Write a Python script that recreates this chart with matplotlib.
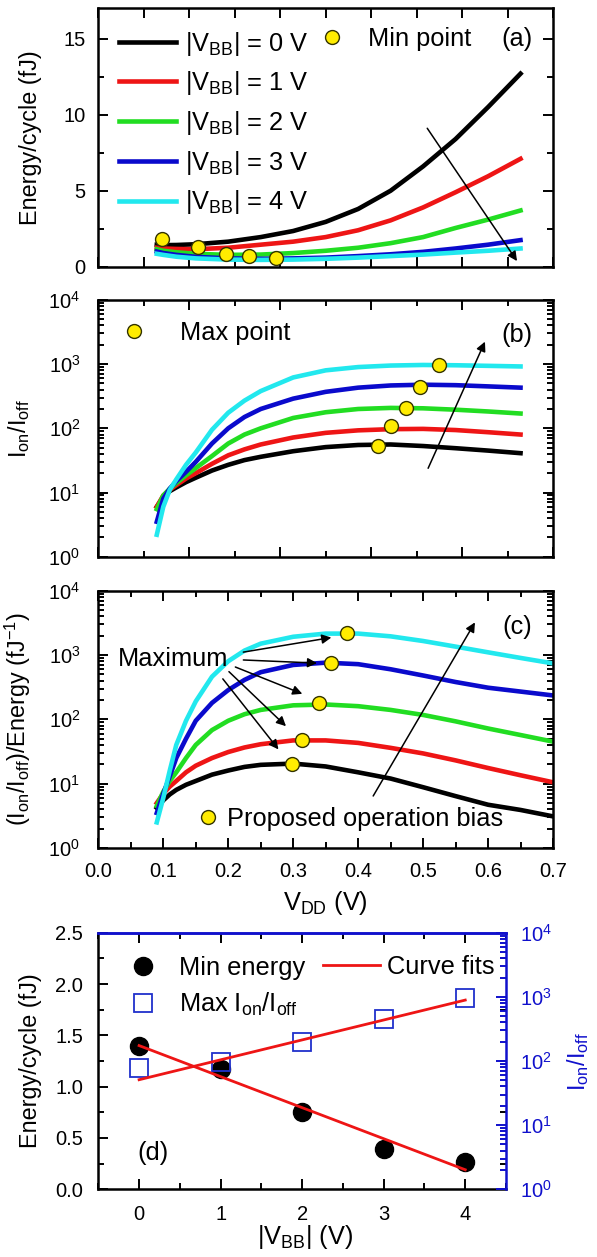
import numpy as np
import matplotlib
matplotlib.use("Agg")
import matplotlib.pyplot as plt
from matplotlib.ticker import MultipleLocator, LogLocator, NullFormatter, FormatStrFormatter
from matplotlib.lines import Line2D

plt.rcParams['font.family'] = ['Liberation Sans', 'DejaVu Sans']
plt.rcParams['mathtext.fontset'] = 'custom'
plt.rcParams['mathtext.rm'] = 'Liberation Sans'
plt.rcParams['mathtext.it'] = 'Liberation Sans:italic'
plt.rcParams['mathtext.default'] = 'regular'

# ---- data ----
vbb_labels = ['0', '1', '2', '3', '4']
colors = ['#000000', '#ee1515', '#22dd22', '#0a0acc', '#22e8ee']

# (a) energy/cycle vs VDD
vdd = [0.09, 0.10, 0.12, 0.15, 0.20, 0.25, 0.30, 0.35, 0.40, 0.45, 0.50, 0.55, 0.60, 0.65]
e_vbb0 = [1.45, 1.42, 1.43, 1.48, 1.65, 1.95, 2.35, 2.95, 3.8, 5.0, 6.6, 8.4, 10.5, 12.7]
e_vbb1 = [1.25, 1.20, 1.17, 1.15, 1.25, 1.45, 1.65, 1.95, 2.4, 3.05, 3.9, 4.9, 5.95, 7.1]
e_vbb2 = [1.15, 1.05, 0.95, 0.85, 0.78, 0.80, 0.90, 1.05, 1.25, 1.55, 1.95, 2.55, 3.1, 3.7]
e_vbb3 = [1.00, 0.90, 0.78, 0.65, 0.55, 0.52, 0.55, 0.60, 0.70, 0.82, 0.98, 1.2, 1.45, 1.75]
e_vbb4 = [0.85, 0.78, 0.66, 0.55, 0.47, 0.45, 0.47, 0.52, 0.60, 0.70, 0.80, 0.93, 1.05, 1.2]
min_vdd = [0.098, 0.154, 0.197, 0.232, 0.273]
min_e = [1.8, 1.27, 0.83, 0.70, 0.55]

# (b) Ion/Ioff vs VDD
vdd_b = [0.09, 0.10, 0.11, 0.12, 0.135, 0.15, 0.175, 0.20, 0.225, 0.25,
         0.30, 0.35, 0.40, 0.45, 0.50, 0.55, 0.60, 0.65]
r_vbb0 = [6, 8.5, 10.5, 12, 14.5, 17, 22, 27, 32, 36, 44, 51, 55, 56, 53, 49, 45, 41]
r_vbb1 = [6, 9, 11, 13, 16.5, 20, 28, 38, 47, 56, 72, 85, 93, 97, 98, 94, 87, 80]
r_vbb2 = [5.5, 9, 11.5, 14, 18.5, 24, 37, 58, 80, 100, 145, 178, 200, 208, 205, 195, 183, 170]
r_vbb3 = [3.5, 8, 11.5, 15, 21, 30, 58, 100, 150, 200, 290, 370, 430, 465, 478, 470, 450, 430]
r_vbb4 = [2.2, 6, 11, 16, 27, 42, 95, 175, 270, 380, 620, 800, 900, 950, 970, 960, 940, 920]
max_vdd = [0.430, 0.451, 0.474, 0.496, 0.524]
max_r = [53, 108, 205, 445, 970]

# (c) (Ion/Ioff)/Energy vs VDD
vdd_c = [0.09, 0.10, 0.11, 0.12, 0.135, 0.15, 0.175, 0.20, 0.225, 0.25,
         0.30, 0.35, 0.40, 0.45, 0.50, 0.55, 0.60, 0.65, 0.70]
q_vbb0 = [4.2, 5.5, 6.8, 8, 9.6, 11, 13.8, 16, 18.2, 19.6, 20.5, 18.5, 15, 12, 8.8, 6.4, 4.7, 3.9, 3.1]
q_vbb1 = [5, 7, 9, 11, 15, 19, 25, 31, 36.5, 41, 47, 47, 43, 36, 29.5, 23, 17.5, 13.5, 10.5]
q_vbb2 = [4.5, 7.5, 11, 15, 25, 40, 68, 95, 120, 140, 165, 170, 160, 140, 117, 93, 72, 57, 45]
q_vbb3 = [3.5, 7, 13, 25, 50, 95, 180, 285, 410, 540, 700, 760, 720, 600, 480, 380, 310, 270, 235]
q_vbb4 = [2.5, 6, 16, 40, 95, 190, 460, 800, 1170, 1500, 1920, 2150, 2150, 1950, 1650, 1350, 1100, 900, 740]
opt_vdd = [0.298, 0.313, 0.339, 0.358, 0.383]
opt_q = [20.2, 48, 178, 745, 2180]

# (d) summary vs |VBB|
vbb = [0, 1, 2, 3, 4]
e_min = [1.40, 1.17, 0.75, 0.39, 0.27]
ratio_max = [79, 96, 199, 457, 951]
fit_vbb = [0, 4]
fit_e = [1.40, 0.19]
fit_ratio = [51, 890]

energy = [e_vbb0, e_vbb1, e_vbb2, e_vbb3, e_vbb4]
ratio = [r_vbb0, r_vbb1, r_vbb2, r_vbb3, r_vbb4]
quality = [q_vbb0, q_vbb1, q_vbb2, q_vbb3, q_vbb4]

FS = 18.3      # text inside panels
LFS = 16.8     # axis labels
TFS = 14.5     # tick labels
LW = 3.3
YEL = '#ffec00'
BLUE = '#1010cc'

fig = plt.figure(figsize=(5.97, 12.57), dpi=100)
ax_a = fig.add_axes([0.1647, 0.7878, 0.7616, 0.2056])
ax_b = fig.add_axes([0.1647, 0.5571, 0.7616, 0.2043])
ax_c = fig.add_axes([0.1647, 0.3254, 0.7616, 0.2047])
ax_d = fig.add_axes([0.1647, 0.0539, 0.6829, 0.2041])


def style(ax, ypad=7, xpad=10):
    ax.tick_params(which='both', direction='in', top=True, right=True,
                   labelsize=TFS, width=1.4, colors='k')
    ax.tick_params(which='major', length=7)
    ax.tick_params(which='minor', length=4)
    ax.tick_params(axis='y', pad=ypad)
    ax.tick_params(axis='x', pad=xpad)
    for s in ax.spines.values():
        s.set_linewidth(1.8)


def arrow(ax, start, end):
    ax.annotate('', xy=end, xytext=start,
                arrowprops=dict(arrowstyle='-|>', color='k', lw=1.1, mutation_scale=14))


def dot_handle(ms=10):
    return Line2D([], [], ls='none', marker='o', ms=ms, mfc=YEL, mec='#333300')


# ---- (a) ----
for y, c, lab in zip(energy, colors, vbb_labels):
    ax_a.plot(vdd, y, color=c, lw=LW, label=r'|V$_{BB}$| = ' + lab + ' V')
ax_a.plot(min_vdd, min_e, 'o', ms=10, mfc=YEL, mec='#333300', mew=1)
ax_a.set_xlim(0, 0.7)
ax_a.set_ylim(0, 17)
ax_a.xaxis.set_major_locator(MultipleLocator(0.07))
ax_a.yaxis.set_major_locator(MultipleLocator(5))
ax_a.yaxis.set_minor_locator(MultipleLocator(2.5))
style(ax_a, ypad=9)
ax_a.tick_params(labelbottom=False)
ax_a.set_ylabel('Energy/cycle (fJ)', fontsize=LFS)
ax_a.yaxis.set_label_coords(-0.124, 0.5)
leg1 = ax_a.legend(loc='center left', bbox_to_anchor=(0.045, 0.556), frameon=False,
                   fontsize=FS, handlelength=2.24, handletextpad=0.35,
                   labelspacing=0.46, borderpad=0, borderaxespad=0)
ax_a.add_artist(leg1)
ax_a.legend([dot_handle()], ['Min point'], loc='center left', bbox_to_anchor=(0.486, 0.881),
            frameon=False, fontsize=FS, handlelength=1, handletextpad=0.92,
            borderpad=0, borderaxespad=0)
ax_a.text(0.955, 0.881, '(a)', transform=ax_a.transAxes, ha='right', va='center', fontsize=FS)
arrow(ax_a, (0.504, 9.26), (0.647, 0.22))

# ---- (b) ----
for y, c in zip(ratio, colors):
    ax_b.plot(vdd_b, y, color=c, lw=LW)
ax_b.plot(max_vdd, max_r, 'o', ms=10, mfc=YEL, mec='#333300', mew=1)
ax_b.set_yscale('log')
ax_b.set_xlim(0, 0.7)
ax_b.set_ylim(1, 1e4)
ax_b.xaxis.set_major_locator(MultipleLocator(0.14))
ax_b.xaxis.set_minor_locator(MultipleLocator(0.07))
ax_b.yaxis.set_major_locator(LogLocator(base=10))
ax_b.yaxis.set_minor_locator(LogLocator(base=10, subs=np.arange(2, 10)))
ax_b.yaxis.set_minor_formatter(NullFormatter())
style(ax_b, ypad=13)
ax_b.tick_params(labelbottom=False)
ax_b.set_ylabel(r'I$_{on}$/I$_{off}$', fontsize=LFS)
ax_b.yaxis.set_label_coords(-0.146, 0.5)
ax_b.legend([dot_handle()], ['Max point'], loc='center left', bbox_to_anchor=(0.050, 0.871),
            frameon=False, fontsize=FS, handlelength=1, handletextpad=1.3,
            borderpad=0, borderaxespad=0)
ax_b.text(0.955, 0.864, '(b)', transform=ax_b.transAxes, ha='right', va='center', fontsize=FS)
arrow(ax_b, (0.506, 21.8), (0.597, 2450))

# ---- (c) ----
for y, c in zip(quality, colors):
    ax_c.plot(vdd_c, y, color=c, lw=LW)
ax_c.plot(opt_vdd, opt_q, 'o', ms=10, mfc=YEL, mec='#333300', mew=1)
ax_c.set_yscale('log')
ax_c.set_xlim(0, 0.7)
ax_c.set_ylim(1, 1e4)
ax_c.xaxis.set_major_locator(MultipleLocator(0.1))
ax_c.xaxis.set_minor_locator(MultipleLocator(0.05))
ax_c.yaxis.set_major_locator(LogLocator(base=10))
ax_c.yaxis.set_minor_locator(LogLocator(base=10, subs=np.arange(2, 10)))
ax_c.yaxis.set_minor_formatter(NullFormatter())
style(ax_c, ypad=13, xpad=10)
ax_c.xaxis.set_major_formatter(FormatStrFormatter('%.1f'))
ax_c.set_ylabel(r'(I$_{on}$/I$_{off}$)/Energy (fJ$^{-1}$)', fontsize=LFS)
ax_c.yaxis.set_label_coords(-0.144, 0.5)
ax_c.set_xlabel(r'V$_{DD}$ (V)', fontsize=FS)
ax_c.xaxis.set_label_coords(0.5, -0.16)
ax_c.legend([dot_handle()], ['Proposed operation bias'], loc='center left',
            bbox_to_anchor=(0.2133, 0.112), frameon=False, fontsize=FS,
            handlelength=1, handletextpad=0.25, borderpad=0, borderaxespad=0)
ax_c.text(0.955, 0.86, '(c)', transform=ax_c.transAxes, ha='right', va='center', fontsize=FS)
ax_c.text(0.043, 0.735, 'Maximum', transform=ax_c.transAxes, ha='left', va='center', fontsize=FS)
arrow_start = [(0.219, 1090), (0.219, 840), (0.207, 675), (0.198, 590), (0.189, 460)]
arrow_end = [(0.363, 1900), (0.341, 745), (0.318, 240), (0.292, 73), (0.280, 31.5)]
for s, e in zip(arrow_start, arrow_end):
    arrow(ax_c, s, e)
arrow(ax_c, (0.421, 5.9), (0.582, 3500))

# ---- (d) ----
ax_r = ax_d.twinx()
ax_d.plot(vbb, e_min, 'o', ms=13, color='k', zorder=3)
ax_d.plot(fit_vbb, fit_e, color='#ee1515', lw=2, zorder=4)
ax_r.plot(vbb, ratio_max, 's', ms=13, mfc='none', mec='#2030cc', mew=1.3)
ax_r.plot(fit_vbb, fit_ratio, color='#ee1515', lw=2)
ax_d.set_xlim(-0.5, 4.5)
ax_d.set_ylim(0, 2.5)
ax_r.set_yscale('log')
ax_r.set_ylim(1, 1e4)
ax_d.xaxis.set_major_locator(MultipleLocator(1))
ax_d.xaxis.set_minor_locator(MultipleLocator(0.5))
ax_d.yaxis.set_major_locator(MultipleLocator(0.5))
ax_d.yaxis.set_minor_locator(MultipleLocator(0.25))
ax_d.yaxis.set_major_formatter(FormatStrFormatter('%.1f'))
style(ax_d, ypad=11, xpad=11)
ax_d.tick_params(right=False)
ax_r.yaxis.set_major_locator(LogLocator(base=10))
ax_r.yaxis.set_minor_locator(LogLocator(base=10, subs=np.arange(2, 10)))
ax_r.yaxis.set_minor_formatter(NullFormatter())
ax_r.tick_params(which='both', direction='in', colors=BLUE, labelsize=TFS, width=1.4, pad=10)
ax_r.tick_params(which='major', length=7)
ax_r.tick_params(which='minor', length=4)
ax_r.spines['left'].set_visible(False)
ax_r.spines['bottom'].set_visible(False)
ax_d.spines['right'].set_visible(False)
for s in ['right', 'top']:
    ax_r.spines[s].set_color(BLUE)
    ax_r.spines[s].set_linewidth(1.8)
ax_d.spines['top'].set_color(BLUE)
ax_d.set_ylabel('Energy/cycle (fJ)', fontsize=LFS)
ax_d.yaxis.set_label_coords(-0.138, 0.5)
ax_r.set_ylabel(r'I$_{on}$/I$_{off}$', fontsize=LFS, color=BLUE)
ax_r.yaxis.set_label_coords(1.145, 0.5)
ax_d.set_xlabel(r'|V$_{BB}$| (V)', fontsize=FS)
ax_d.xaxis.set_label_coords(0.507, -0.13)
h_e = Line2D([], [], ls='none', marker='o', ms=13, color='k')
h_r = Line2D([], [], ls='none', marker='s', ms=13, mfc='none', mec='#2030cc', mew=1.3)
h_f = Line2D([], [], color='#ee1515', lw=2)
lg = ax_r.legend([h_e, h_r], ['Min energy', r'Max I$_{on}$/I$_{off}$'], loc='center left',
                 bbox_to_anchor=(0.0785, 0.79), frameon=False, fontsize=FS,
                 handlelength=1, handletextpad=0.92, labelspacing=0.43,
                 borderpad=0, borderaxespad=0)
ax_r.add_artist(lg)
ax_r.legend([h_f], ['Curve fits'], loc='center left', bbox_to_anchor=(0.55, 0.866),
            frameon=False, fontsize=FS, handlelength=2.26, handletextpad=0.29,
            borderpad=0, borderaxespad=0)
ax_d.text(0.095, 0.14, '(d)', transform=ax_d.transAxes, ha='left', va='center', fontsize=FS)

fig.savefig('out.png', dpi=100)
